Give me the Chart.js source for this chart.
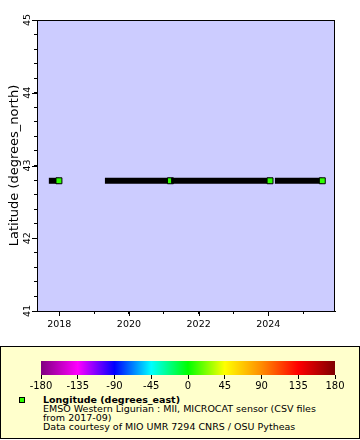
<!DOCTYPE html>
<html>
<head>
<meta charset="utf-8">
<script src="https://cdn.jsdelivr.net/npm/chart.js@4.4.1/dist/chart.umd.min.js"></script>
<style>
  body { margin: 0; background: #fff; font-family: "DejaVu Sans", sans-serif; }
  #wrap { position: relative; width: 360px; height: 440px; }
  #track { position: absolute; left: 0; top: 0; }
  #legend {
    position: absolute; left: 0; top: 346px; width: 358px; height: 91px;
    border: 1px solid #000; background: #ffffcc;
  }
  #bar { position: absolute; left: 0; top: 355px; }
  #swatch { position: absolute; left: 19px; top: 397px; width: 4px; height: 4px; border: 1px solid #000; }
  .txt { position: absolute; left: 43px; font-size: 9.5px; line-height: 9px; color: #000; white-space: nowrap; }
</style>
</head>
<body>
<div id="wrap">
  <canvas id="track" width="360" height="346"></canvas>
  <div id="legend"></div>
  <canvas id="bar" width="360" height="36"></canvas>
  <div id="swatch"></div>
  <div class="txt" style="top:395px;font-weight:bold">Longitude (degrees_east)</div>
  <div class="txt" style="top:404px">EMSO Western Ligurian : MII, MICROCAT sensor (CSV files</div>
  <div class="txt" style="top:413px">from 2017-09)</div>
  <div class="txt" style="top:422px">Data courtesy of MIO UMR 7294 CNRS / OSU Pytheas</div>
</div>
<script>
// runs of observations (decimal years); each run ends with its last marker
const runStart = [2017.70, 2019.31, 2021.21, 2024.19];
const runEnd = [2017.99, 2021.19, 2024.05, 2025.55];
const latitude = [42.79, 42.79, 42.79, 42.79];
const longitude = [7.86, 7.86, 7.86, 7.86];

// axis ranges
const timeMin = 2017.36;
const timeMax = 2025.915;
const latMin = 41;
const latMax = 45;

// colour bar
const paletteStops = [-180, -135, -90, -45, 0, 45, 90, 135, 180];
const paletteColors = ['#800080', '#ff00ff', '#0000ff', '#00ffff', '#00ff00', '#ffff00', '#ff8c00', '#ff0000', '#800000'];

const fontTick = { family: 'DejaVu Sans', size: 9.5 };
const minorLen = 3;
const majorLen = 5;

function hexToRgb(h) {
    return [1, 3, 5].map(i => parseInt(h.substr(i, 2), 16));
}

function colorFor(v) {
    for (let i = 0; i < paletteStops.length - 1; i++) {
        if (v >= paletteStops[i] && v <= paletteStops[i + 1]) {
            const t = (v - paletteStops[i]) / (paletteStops[i + 1] - paletteStops[i]);
            const a = hexToRgb(paletteColors[i]);
            const b = hexToRgb(paletteColors[i + 1]);
            const c = a.map((x, k) => Math.round(x + (b[k] - x) * t));
            return `rgb(${c[0]}, ${c[1]}, ${c[2]})`;
        }
    }
    return '#000';
}

const isWhole = v => Math.abs(v - Math.round(v)) < 1e-6;
const isMajorYear = v => isWhole(v) && Math.round(v) % 2 === 0;

const plotFrame = {
    id: 'plotFrame',
    beforeDraw(chart) {
        const { ctx, chartArea: a } = chart;
        ctx.save();
        ctx.fillStyle = '#ccccff';
        ctx.fillRect(a.left, a.top, a.right - a.left, a.bottom - a.top);
        ctx.restore();
    },
    afterDraw(chart) {
        const { ctx, chartArea: a, scales } = chart;
        ctx.save();
        ctx.strokeStyle = '#000';
        ctx.lineWidth = 1;
        ctx.strokeRect(a.left + 0.5, a.top + 0.5, a.right - a.left - 1, a.bottom - a.top);
        // longer marks for the labelled ticks
        ctx.beginPath();
        scales.x.ticks.filter(t => isMajorYear(t.value)).forEach(t => {
            const px = Math.round(scales.x.getPixelForValue(t.value)) + 0.5;
            ctx.moveTo(px, a.bottom);
            ctx.lineTo(px, a.bottom + majorLen);
        });
        scales.y.ticks.filter(t => isWhole(t.value)).forEach(t => {
            const py = Math.round(scales.y.getPixelForValue(t.value)) + 0.5;
            ctx.moveTo(a.left, py);
            ctx.lineTo(a.left - majorLen, py);
        });
        ctx.stroke();
        ctx.restore();
    }
};

new Chart(document.getElementById('track'), {
    type: 'line',
    data: {
        datasets: runStart.map((s, i) => ({
            data: [{ x: s, y: latitude[i] }, { x: runEnd[i], y: latitude[i] }],
            borderColor: '#000',
            borderWidth: 6,
            borderCapStyle: 'butt',
            pointStyle: 'rect',
            pointRadius: [0, 4.2],
            pointBackgroundColor: colorFor(longitude[i]),
            pointBorderColor: '#000',
            pointBorderWidth: 1,
            order: runStart.length - i
        }))
    },
    options: {
        responsive: false,
        animation: false,
        events: [],
        layout: { padding: { top: 20, right: 25, left: 0, bottom: 0 } },
        plugins: { legend: { display: false }, tooltip: { enabled: false } },
        scales: {
            x: {
                type: 'linear',
                min: timeMin,
                max: timeMax,
                ticks: {
                    stepSize: 1,
                    includeBounds: false,
                    autoSkip: false,
                    maxRotation: 0,
                    padding: 5,
                    color: '#000',
                    font: fontTick,
                    callback: v => isMajorYear(v) ? String(Math.round(v)) : ''
                },
                grid: { drawOnChartArea: false, tickLength: minorLen, color: '#000' },
                border: { color: '#000' },
                afterFit: s => { s.height = 35; }
            },
            y: {
                min: latMin,
                max: latMax,
                ticks: {
                    stepSize: 0.2,
                    includeBounds: false,
                    autoSkip: false,
                    minRotation: 90,
                    maxRotation: 90,
                    crossAlign: 'center',
                    padding: 0,
                    color: '#000',
                    font: fontTick,
                    callback: v => isWhole(v) ? String(Math.round(v)) : ''
                },
                grid: { drawOnChartArea: false, tickLength: minorLen, color: '#000' },
                border: { color: '#000' },
                title: {
                    display: true,
                    text: 'Latitude (degrees_north)',
                    color: '#000',
                    font: { family: 'DejaVu Sans', size: 13 },
                    padding: { top: 7, bottom: 0 }
                },
                afterFit: s => { s.width = 37; }
            }
        }
    },
    plugins: [plotFrame]
});

const colorRamp = {
    id: 'colorRamp',
    beforeDatasetsDraw(chart) {
        const { ctx, chartArea: a, scales } = chart;
        const first = paletteStops[0];
        const last = paletteStops[paletteStops.length - 1];
        const x0 = scales.x.getPixelForValue(first);
        const x1 = scales.x.getPixelForValue(last);
        const g = ctx.createLinearGradient(x0, 0, x1, 0);
        paletteStops.forEach((v, i) => g.addColorStop((v - first) / (last - first), paletteColors[i]));
        ctx.save();
        ctx.fillStyle = g;
        ctx.fillRect(x0, a.top, x1 - x0, a.bottom - a.top);
        ctx.restore();
    }
};

new Chart(document.getElementById('bar'), {
    type: 'scatter',
    data: { datasets: [{ data: [] }] },
    options: {
        responsive: false,
        animation: false,
        events: [],
        layout: { padding: { top: 6, right: 25, left: 41, bottom: 0 } },
        plugins: { legend: { display: false }, tooltip: { enabled: false } },
        scales: {
            x: {
                type: 'linear',
                min: paletteStops[0],
                max: paletteStops[paletteStops.length - 1],
                afterBuildTicks: s => { s.ticks = paletteStops.map(v => ({ value: v })); },
                ticks: { autoSkip: false, maxRotation: 0, padding: 1, color: '#000', font: { family: 'DejaVu Sans', size: 10 } },
                grid: { drawOnChartArea: false, tickLength: 4, color: '#000' },
                border: { display: false },
                afterFit: s => { s.height = 16; }
            },
            y: { display: false, min: 0, max: 1 }
        }
    },
    plugins: [colorRamp]
});

document.getElementById('swatch').style.background = colorFor(longitude[0]);
</script>
</body>
</html>
